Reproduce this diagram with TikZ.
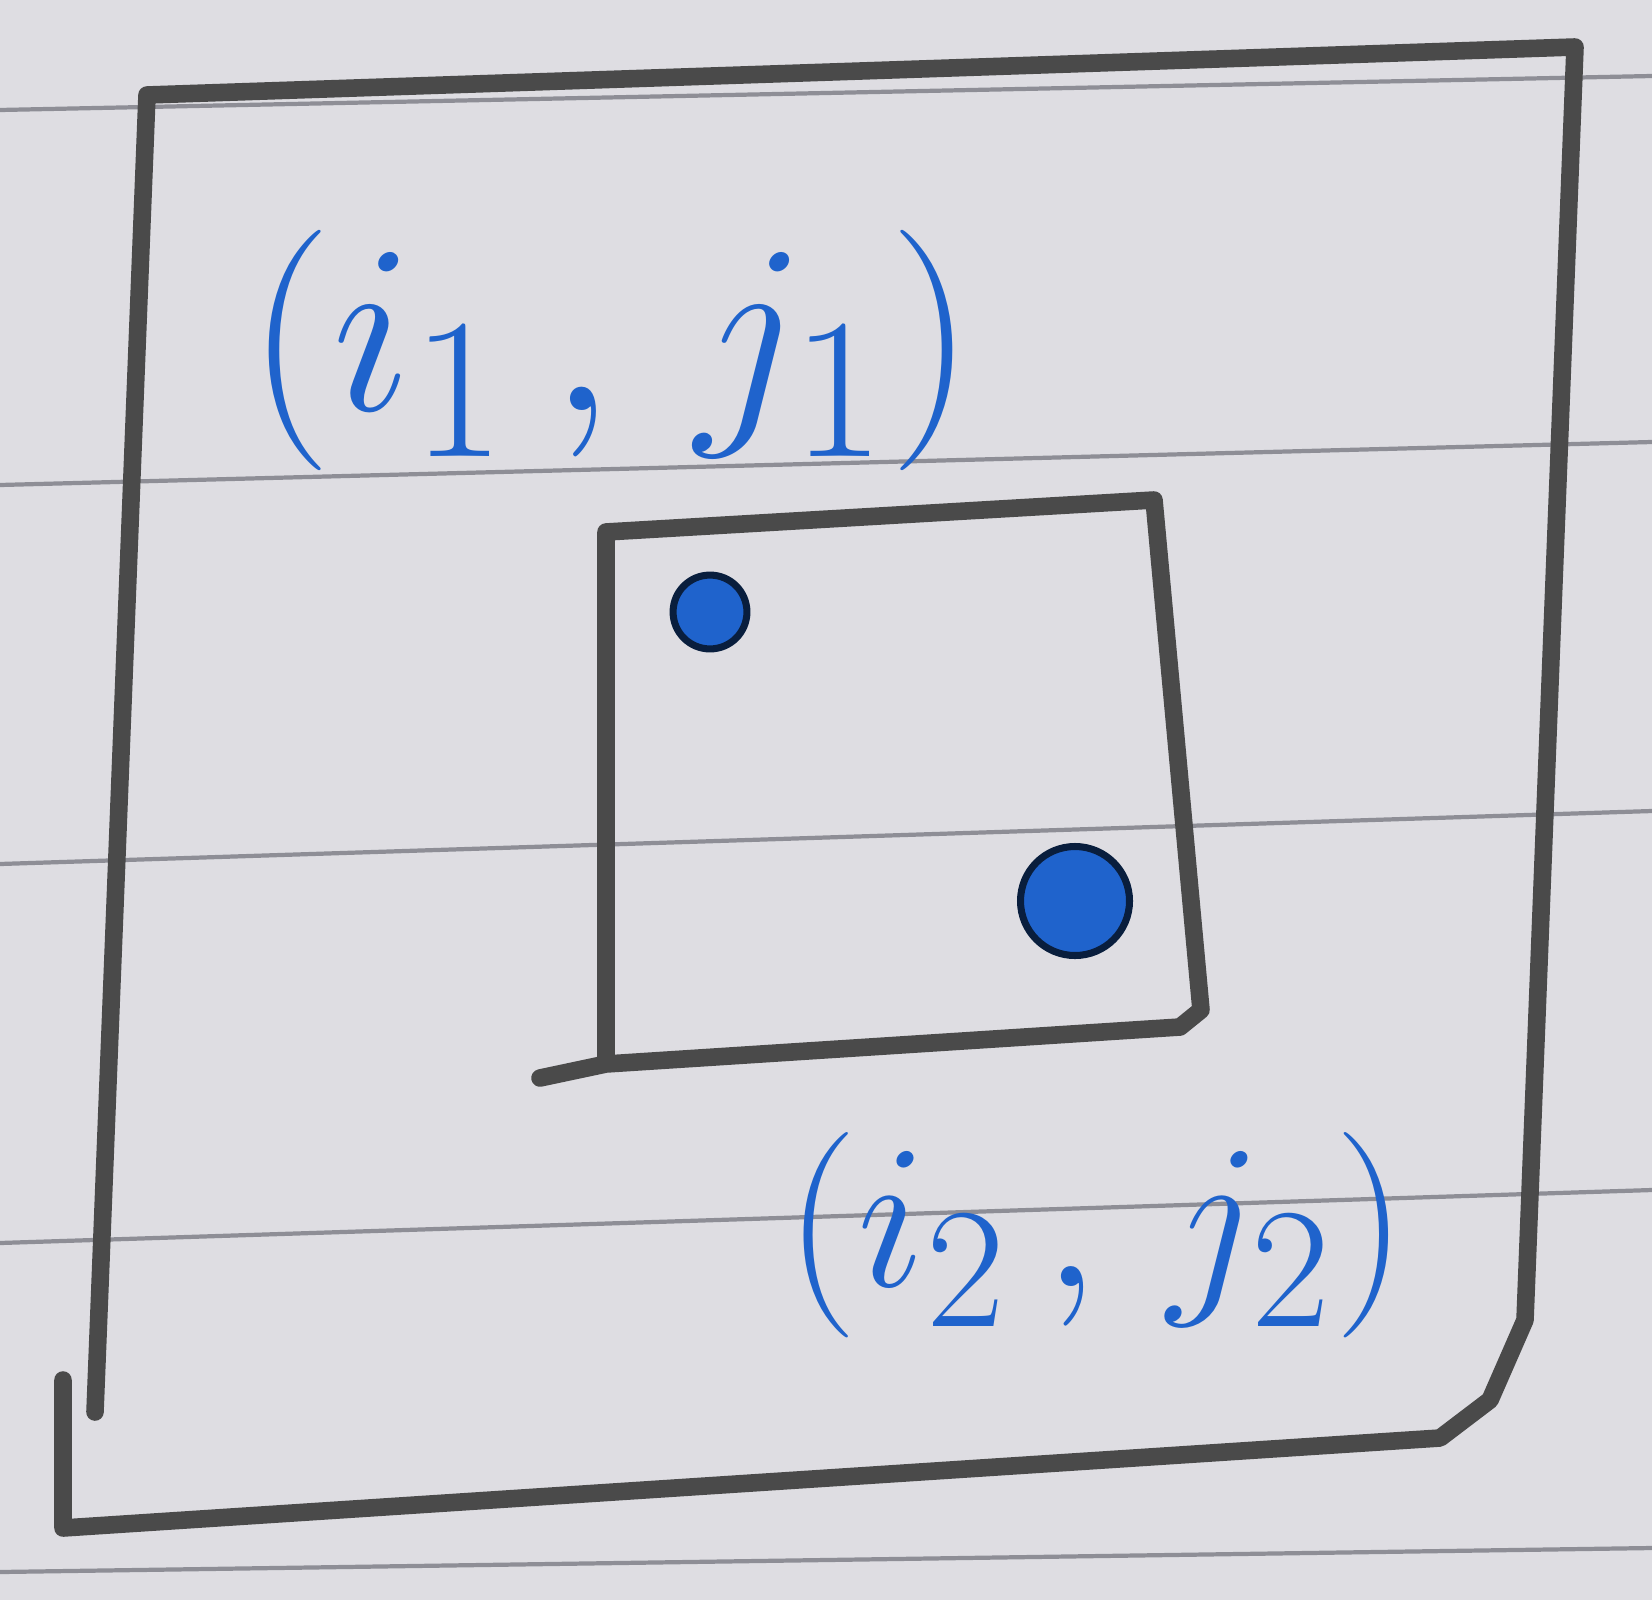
\documentclass[tikz,border=0pt]{standalone}
\usepackage{amsmath}
\usepackage{xcolor}
\definecolor{paper}{HTML}{DEDDE2}
\definecolor{rule}{HTML}{8E8E96}
\definecolor{pencil}{HTML}{4A4A4A}
\definecolor{ink}{HTML}{1F63CC}
\usepackage{tikz}
\usetikzlibrary{positioning,calc}

\begin{document}
\begin{tikzpicture}[
  x=0.01cm, y=-0.01cm,
  ruling/.style={draw=rule, line width=1.2pt},
  frame/.style={draw=pencil, line width=5pt, line join=round, line cap=round},
  pt/.style={circle, fill=ink, draw=black!70!ink, line width=2pt, inner sep=0pt},
  lbl/.style={text=ink, font=\Huge}
]
\fill[paper] (0,0) rectangle (1652,1600);
\useasboundingbox (0,0) rectangle (1652,1600);
% ruled lines of the notebook
\draw[ruling] (0,110) -- (1652,76);
\draw[ruling] (0,485) -- (1652,442);
\draw[ruling] (0,864) -- (1652,811);
\draw[ruling] (0,1243) -- (1652,1190);
\draw[ruling] (0,1572) -- (1652,1548);
% outer square
\draw[frame] (95,1412) -- (147,95) -- (1575,47) -- (1525,1320) -- (1490,1400) -- (1440,1438) -- (63,1528) -- (63,1380);
% inner square
\draw[frame] (540,1078) -- (606,1064) -- (606,532) -- (1154,500) -- (1201,1010) -- (1180,1027) -- (606,1064);
% corner points
\node[pt, minimum size=21pt] (p1) at (710,612) {};
\node[pt, minimum size=31pt] (p2) at (1075,901) {};
% labels
\node[lbl] (l1) at (611,350) {\scalebox{2.75}{$(i_1\,,\,j_1)$}};
\node[lbl] (l2) at (1096,1235) {\scalebox{2.35}{$(i_2\,,\,j_2)$}};
\end{tikzpicture}
\end{document}
